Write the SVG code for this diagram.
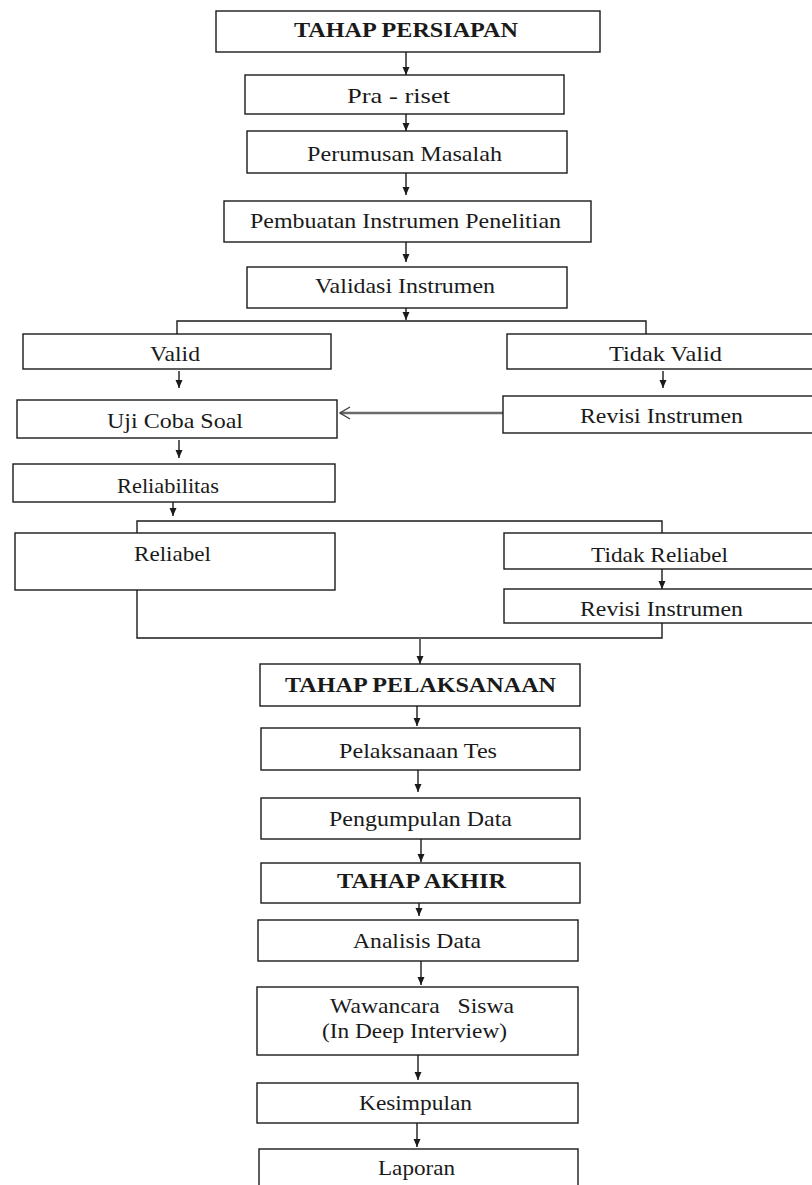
<svg xmlns="http://www.w3.org/2000/svg" width="812" height="1185" viewBox="0 0 812 1185">
<defs>
<style>
.box{fill:#fff;stroke:#1a1a1a;stroke-width:1.4}
.t{font-family:"Liberation Serif","Times New Roman",serif;font-size:22px;fill:#1a1a1a}
.b{font-weight:bold}
.ln{fill:none;stroke:#1a1a1a;stroke-width:1.4}
.gr{fill:none;stroke:#6a6a6a;stroke-width:2.6}
</style>
<marker id="ah" markerUnits="userSpaceOnUse" markerWidth="8" markerHeight="8" refX="8" refY="4" orient="auto">
<path d="M0,0.5 L8,4 L0,7.5 z" fill="#1a1a1a"/>
</marker>
<marker id="oh" markerUnits="userSpaceOnUse" markerWidth="12" markerHeight="14" refX="11" refY="7" orient="auto">
<path d="M1,1 L11,7 L1,13" fill="none" stroke="#444" stroke-width="1.4"/>
</marker>
</defs>
<rect width="812" height="1185" fill="#fff"/>
<g id="connectors">
<line class="ln" x1="406" y1="52" x2="406" y2="75" marker-end="url(#ah)"/>
<line class="ln" x1="406" y1="114" x2="406" y2="131" marker-end="url(#ah)"/>
<line class="ln" x1="406" y1="173" x2="406" y2="195" marker-end="url(#ah)"/>
<line class="ln" x1="406" y1="242" x2="406" y2="262" marker-end="url(#ah)"/>
<line class="ln" x1="406" y1="308" x2="406" y2="320" marker-end="url(#ah)"/>
<path class="ln" d="M177,334 V321 H646 V334"/>
<line class="ln" x1="179" y1="371" x2="179" y2="388" marker-end="url(#ah)"/>
<line class="ln" x1="663" y1="371" x2="663" y2="388" marker-end="url(#ah)"/>
<line class="gr" x1="503" y1="413" x2="340" y2="413" marker-end="url(#oh)"/>
<line class="ln" x1="179" y1="440" x2="179" y2="458" marker-end="url(#ah)"/>
<line class="ln" x1="173" y1="502" x2="173" y2="516" marker-end="url(#ah)"/>
<path class="ln" d="M137,533 V521 H662 V533"/>
<line class="ln" x1="662" y1="569" x2="662" y2="589" marker-end="url(#ah)"/>
<path class="ln" d="M137,590 V638 H662 V623"/>
<line x1="420" y1="638" x2="420" y2="664" stroke="#666" stroke-width="2" marker-end="url(#ah)"/>
<line class="ln" x1="417" y1="706" x2="417" y2="726" marker-end="url(#ah)"/>
<line class="ln" x1="418" y1="770" x2="418" y2="792" marker-end="url(#ah)"/>
<line class="ln" x1="421" y1="839" x2="421" y2="862" marker-end="url(#ah)"/>
<line class="ln" x1="419" y1="903" x2="419" y2="916" stroke-width="1" marker-end="url(#ah)"/>
<line class="ln" x1="421" y1="961" x2="421" y2="985" marker-end="url(#ah)"/>
<line class="ln" x1="418" y1="1055" x2="418" y2="1080" marker-end="url(#ah)"/>
<line class="ln" x1="417" y1="1123" x2="417" y2="1147" marker-end="url(#ah)"/>
</g>
<g id="n-persiapan"><rect class="box" x="216" y="11" width="384" height="41"/><text class="t b" x="294" y="37" textLength="224" lengthAdjust="spacingAndGlyphs">TAHAP PERSIAPAN</text></g>
<g id="n-prariset"><rect class="box" x="245" y="75" width="319" height="39"/><text class="t" x="347" y="103" textLength="103" lengthAdjust="spacingAndGlyphs">Pra - riset</text></g>
<g id="n-perumusan"><rect class="box" x="247" y="131" width="320" height="42"/><text class="t" x="307" y="161" textLength="195" lengthAdjust="spacingAndGlyphs">Perumusan Masalah</text></g>
<g id="n-pembuatan"><rect class="box" x="224" y="201" width="367" height="41"/><text class="t" x="250" y="228" textLength="311" lengthAdjust="spacingAndGlyphs">Pembuatan Instrumen Penelitian</text></g>
<g id="n-validasi"><rect class="box" x="247" y="267" width="320" height="41"/><text class="t" x="315" y="293" textLength="180" lengthAdjust="spacingAndGlyphs">Validasi Instrumen</text></g>
<g id="n-valid"><rect class="box" x="23" y="334" width="308" height="35"/><text class="t" x="150" y="361" textLength="50" lengthAdjust="spacingAndGlyphs">Valid</text></g>
<g id="n-tidakvalid"><rect class="box" x="507" y="334" width="315" height="35"/><text class="t" x="609" y="361" textLength="113" lengthAdjust="spacingAndGlyphs">Tidak Valid</text></g>
<g id="n-ujicoba"><rect class="box" x="17" y="400" width="320" height="38"/><text class="t" x="107" y="428" textLength="136" lengthAdjust="spacingAndGlyphs">Uji Coba Soal</text></g>
<g id="n-revisi1"><rect class="box" x="503" y="396" width="319" height="37"/><text class="t" x="580" y="423" textLength="163" lengthAdjust="spacingAndGlyphs">Revisi Instrumen</text></g>
<g id="n-reliabilitas"><rect class="box" x="13" y="464" width="322" height="38"/><text class="t" x="117" y="493" textLength="102" lengthAdjust="spacingAndGlyphs">Reliabilitas</text></g>
<g id="n-reliabel"><rect class="box" x="15" y="533" width="320" height="57"/><text class="t" x="134" y="561" textLength="77" lengthAdjust="spacingAndGlyphs">Reliabel</text></g>
<g id="n-tidakreliabel"><rect class="box" x="504" y="533" width="318" height="36"/><text class="t" x="591" y="562" textLength="137" lengthAdjust="spacingAndGlyphs">Tidak Reliabel</text></g>
<g id="n-revisi2"><rect class="box" x="504" y="589" width="318" height="34"/><text class="t" x="580" y="616" textLength="163" lengthAdjust="spacingAndGlyphs">Revisi Instrumen</text></g>
<g id="n-pelaksanaan"><rect class="box" x="260" y="664" width="320" height="42"/><text class="t b" x="285" y="692" textLength="271" lengthAdjust="spacingAndGlyphs">TAHAP PELAKSANAAN</text></g>
<g id="n-tes"><rect class="box" x="261" y="728" width="319" height="42"/><text class="t" x="339" y="758" textLength="158" lengthAdjust="spacingAndGlyphs">Pelaksanaan Tes</text></g>
<g id="n-pengumpulan"><rect class="box" x="261" y="798" width="319" height="41"/><text class="t" x="329" y="826" textLength="183" lengthAdjust="spacingAndGlyphs">Pengumpulan Data</text></g>
<g id="n-akhir"><rect class="box" x="261" y="863" width="319" height="40"/><text class="t b" x="337" y="888" textLength="169" lengthAdjust="spacingAndGlyphs">TAHAP AKHIR</text></g>
<g id="n-analisis"><rect class="box" x="258" y="920" width="320" height="41"/><text class="t" x="353" y="948" textLength="128" lengthAdjust="spacingAndGlyphs">Analisis Data</text></g>
<g id="n-wawancara"><rect class="box" x="257" y="987" width="321" height="68"/><text class="t" x="330" y="1013" textLength="184" lengthAdjust="spacingAndGlyphs" style="white-space:pre">Wawancara   Siswa</text><text class="t" x="322" y="1038" textLength="185" lengthAdjust="spacingAndGlyphs">(In Deep Interview)</text></g>
<g id="n-kesimpulan"><rect class="box" x="257" y="1083" width="321" height="40"/><text class="t" x="359" y="1110" textLength="113" lengthAdjust="spacingAndGlyphs">Kesimpulan</text></g>
<g id="n-laporan"><rect class="box" x="259" y="1149" width="319" height="60"/><text class="t" x="378" y="1175" textLength="77" lengthAdjust="spacingAndGlyphs">Laporan</text></g>
</svg>
